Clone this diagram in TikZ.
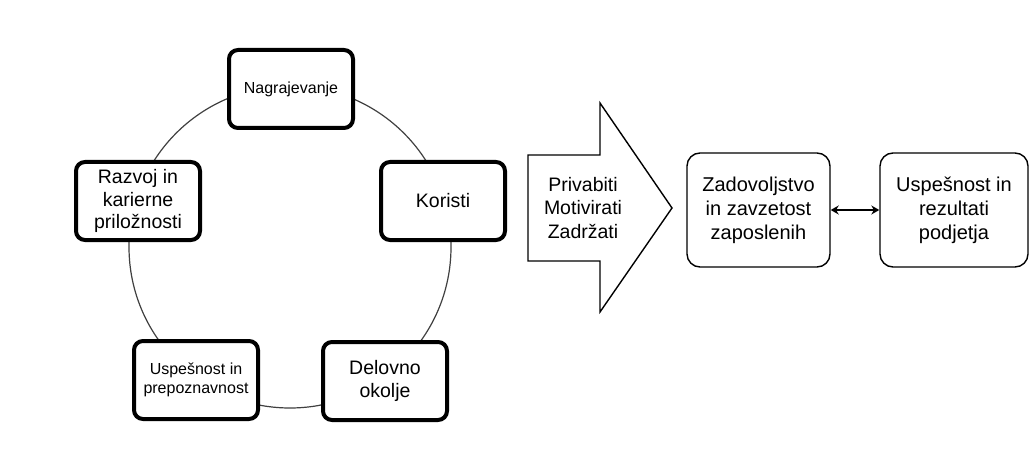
\documentclass[tikz,border=0pt]{standalone}
\usepackage{fontspec}
\setmainfont{Liberation Sans}
\usetikzlibrary{arrows.meta}
\begin{document}
\begin{tikzpicture}[x=1pt,y=-1pt,
  cyclebox/.style={draw=black,line width=4pt,rounded corners=9pt,fill=white,minimum width=124pt,minimum height=78pt,align=center,inner sep=2pt},
  flowbox/.style={draw=black,line width=1.4pt,rounded corners=13pt,fill=white,minimum height=114pt,align=center,inner sep=2pt},
  big/.style={font=\fontsize{19.5}{22.5}\selectfont},
  small/.style={font=\fontsize{16}{19}\selectfont}]
\useasboundingbox (0,0) rectangle (1035,465);
\fill[white] (0,0) rectangle (1035,465);
\coordinate (c) at (290,247);
\draw[line width=1.2pt,black!75] (c) circle[radius=161pt];
\node[cyclebox,small] (nag) at (291,89) {Nagrajevanje};
\node[cyclebox,big] (kor) at (443,201) {Koristi};
\node[cyclebox,big] (raz) at (138,201) {Razvoj in\\karierne\\priložnosti};
\node[cyclebox,small] (usp) at (196,380) {Uspešnost in\\prepoznavnost};
\node[cyclebox,big] (del) at (385,381) {Delovno\\okolje};
\draw[line width=1.4pt,fill=white] (528,155) -- (600,155) -- (600,103) -- (672,208) -- (600,312) -- (600,261) -- (528,261) -- cycle;
\node[align=center,font=\fontsize{19.5}{23.5}\selectfont] (pmz) at (583,208) {Privabiti\\Motivirati\\Zadržati};
\node[flowbox,minimum width=143pt,font=\fontsize{20}{24}\selectfont] (zad) at (758.5,210) {Zadovoljstvo\\in zavzetost\\zaposlenih};
\node[flowbox,minimum width=148pt,font=\fontsize{20}{24}\selectfont] (rez) at (954,210) {Uspešnost in\\rezultati\\podjetja};
\draw[line width=2pt,{Stealth[length=8pt,width=9pt]}-{Stealth[length=8pt,width=9pt]}] (zad.east) -- (rez.west);
\end{tikzpicture}
\end{document}
